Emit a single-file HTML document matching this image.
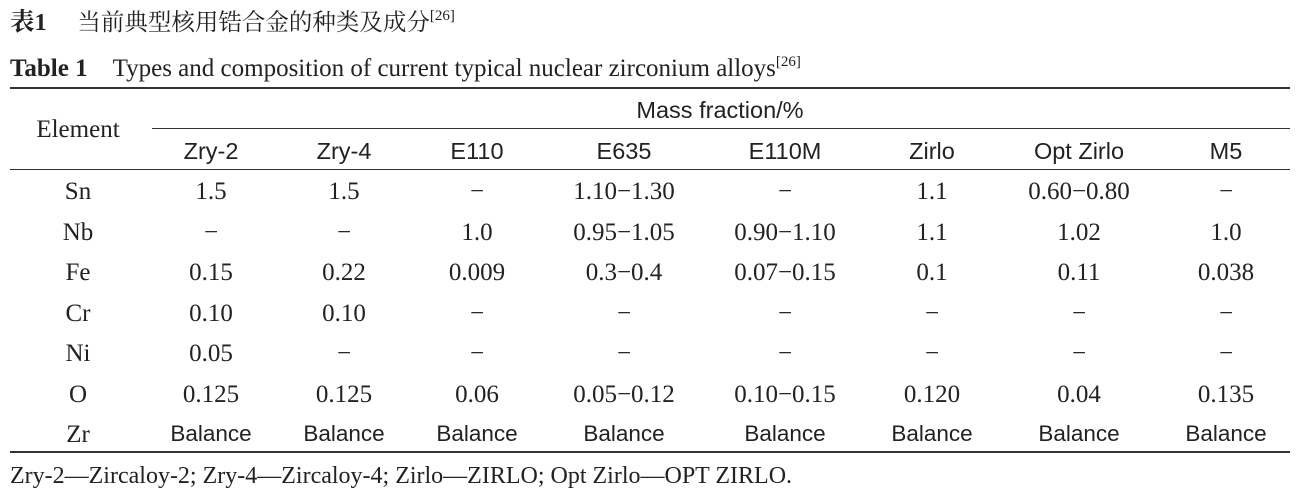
<!DOCTYPE html>
<html><head><meta charset="utf-8"><style>
body{margin:0;width:1299px;height:496px;background:#fff;position:relative;overflow:hidden;color:#222}
.t{position:absolute;white-space:nowrap;line-height:26px;font-size:25px}
.s{font-family:"Liberation Serif","Noto Serif CJK SC",serif}
.a{font-family:"Liberation Sans","Noto Sans CJK SC",sans-serif;font-size:23.5px}
.b{font-size:22.5px}
.c{transform:translateX(-50%)}
.r{position:absolute;background:#333}
sup{font-size:15px;vertical-align:10px}
</style></head><body>
<div class="t s" style="left:10px;top:3px;font-size:24.5px"><b>表1</b>&nbsp;&nbsp;&nbsp;&nbsp;&nbsp;<span style="font-family:'Noto Serif CJK SC',serif;font-size:23.5px">当前典型核用锆合金的种类及成分</span><sup>[26]</sup></div>
<div class="t s" style="left:10px;top:49px;font-size:25px"><b>Table 1</b>&nbsp;&nbsp;&nbsp;&nbsp;Types and composition of current typical nuclear zirconium alloys<sup>[26]</sup></div>
<div class="r" style="left:10px;top:87px;width:1280px;height:2px"></div>
<div class="r" style="left:152px;top:128px;width:1138px;height:1px"></div>
<div class="r" style="left:10px;top:169px;width:1280px;height:1px"></div>
<div class="r" style="left:10px;top:451px;width:1280px;height:2px"></div>
<div class="t s c" style="left:78px;top:117px">Element</div>
<div class="t a c" style="left:720px;top:97px">Mass fraction/%</div>
<div id="g"></div>
<div class="t s" style="left:10px;top:463px;font-size:24px">Zry-2—Zircaloy-2; Zry-4—Zircaloy-4; Zirlo—ZIRLO; Opt Zirlo—OPT ZIRLO.</div>
<script>
var xs=[78,211,344,477,624,785,932,1079,1226];
var hd=["Zry-2","Zry-4","E110","E635","E110M","Zirlo","Opt Zirlo","M5"];
var h="";
hd.forEach(function(v,i){h+='<div class="t a c" style="left:'+xs[i+1]+'px;top:138px">'+v+'</div>';});
var rows=[["Sn","1.5","1.5","−","1.10−1.30","−","1.1","0.60−0.80","−"],
["Nb","−","−","1.0","0.95−1.05","0.90−1.10","1.1","1.02","1.0"],
["Fe","0.15","0.22","0.009","0.3−0.4","0.07−0.15","0.1","0.11","0.038"],
["Cr","0.10","0.10","−","−","−","−","−","−"],
["Ni","0.05","−","−","−","−","−","−","−"],
["O","0.125","0.125","0.06","0.05−0.12","0.10−0.15","0.120","0.04","0.135"],
["Zr","Balance","Balance","Balance","Balance","Balance","Balance","Balance","Balance"]];
rows.forEach(function(r,j){var y=179+j*40.5;r.forEach(function(v,i){var cl=(v=="Balance")?"a b":"s";h+='<div class="t '+cl+' c" style="left:'+xs[i]+'px;top:'+(v=="Balance"?y-1:y)+'px">'+v+'</div>';});});
document.getElementById("g").innerHTML=h;
</script>
</body></html>
